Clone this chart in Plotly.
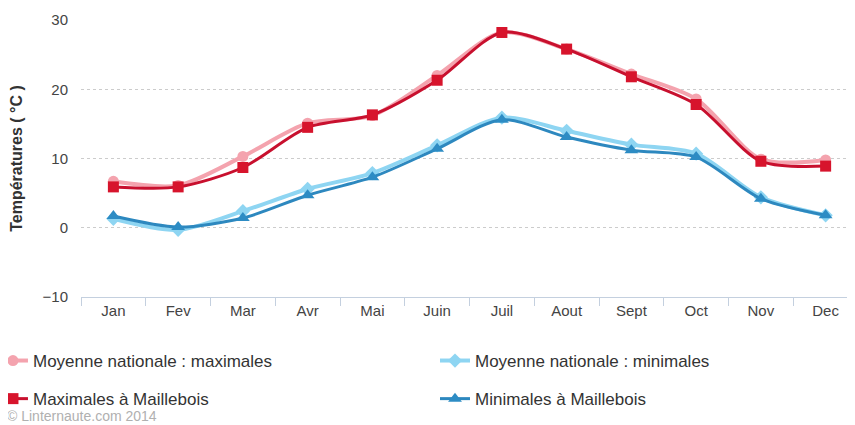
import plotly.graph_objects as go

months = ["Jan", "Fev", "Mar", "Avr", "Mai", "Juin", "Juil", "Aout", "Sept", "Oct", "Nov", "Dec"]

nat_max = [6.7, 6.1, 10.3, 15.1, 16.2, 22.0, 28.2, 25.8, 22.2, 18.6, 9.9, 9.8]
nat_min = [1.3, -0.3, 2.4, 5.6, 7.9, 11.9, 15.9, 14.0, 12.0, 10.7, 4.4, 1.8]
mail_max = [5.9, 5.9, 8.7, 14.5, 16.3, 21.3, 28.2, 25.8, 21.8, 17.8, 9.6, 8.9]
mail_min = [1.7, 0.1, 1.4, 4.7, 7.3, 11.4, 15.6, 13.1, 11.2, 10.2, 4.2, 1.8]

FONT = "Liberation Sans, Arial, sans-serif"

fig = go.Figure()

# national averages drawn first, lighter and a bit wider
fig.add_trace(go.Scatter(
    x=months, y=nat_max, name="Moyenne nationale : maximales",
    mode="lines+markers", line=dict(color="#f4a3ae", width=4, shape="spline", smoothing=0.8),
    marker=dict(symbol="circle", size=11, color="#f4a3ae"),
    legend="legend", legendgroup="a",
))
fig.add_trace(go.Scatter(
    x=months, y=nat_min, name="Moyenne nationale : minimales",
    mode="lines+markers", line=dict(color="#8ed5f2", width=4, shape="spline", smoothing=0.8),
    marker=dict(symbol="diamond", size=11, color="#8ed5f2"),
    legend="legend2", legendgroup="c",
))
fig.add_trace(go.Scatter(
    x=months, y=mail_max, name="Maximales à Maillebois",
    mode="lines+markers", line=dict(color="#c8102e", width=3, shape="spline", smoothing=0.8),
    marker=dict(symbol="square", size=11, color="#d7142c"),
    legend="legend", legendgroup="b",
))
fig.add_trace(go.Scatter(
    x=months, y=mail_min, name="Minimales à Maillebois",
    mode="lines+markers", line=dict(color="#2d88bf", width=3, shape="spline", smoothing=0.8),
    marker=dict(symbol="triangle-up", size=12, color="#2d8cc4"),
    legend="legend2", legendgroup="d",
))

legend_style = dict(
    orientation="v", yanchor="top", xanchor="left",
    font=dict(family=FONT, size=17, color="#333333"),
    tracegroupgap=13, itemwidth=30, bgcolor="rgba(0,0,0,0)",
)

# the page body adds an 8px offset, so everything is placed 8px up/left
fig.update_layout(
    width=855, height=425,
    margin=dict(l=73, r=5, t=12, b=136, autoexpand=False),
    paper_bgcolor="white", plot_bgcolor="white",
    font=dict(family=FONT, color="#333333"),
    legend=dict(x=-0.1133, y=-0.166, **legend_style),
    legend2=dict(x=0.4556, y=-0.166, **legend_style),
    annotations=[dict(
        text="© Linternaute.com 2014", xref="paper", yref="paper",
        x=-0.098, y=-0.4296, xanchor="left", yanchor="middle", showarrow=False,
        font=dict(family=FONT, size=14, color="#b0b0b0"),
    )],
)

fig.update_xaxes(
    range=[-0.5, 11.5],
    showgrid=False, showline=True, linecolor="#c4d0df", linewidth=1,
    ticks="outside", tickson="boundaries", ticklen=8, tickcolor="#c4d0df",
    tickfont=dict(size=15, color="#444444"), zeroline=False,
)
fig.update_yaxes(
    range=[-10, 30], tickvals=[-10, 0, 10, 20, 30],
    showgrid=True, gridcolor="#cccccc", griddash="dot", gridwidth=1,
    zeroline=False, showline=False, ticklabelstandoff=12,
    tickfont=dict(size=15, color="#444444"),
    title=dict(text="<b>Températures ( °C )</b>", font=dict(size=16, color="#333333"), standoff=18),
)

fig.write_html("out.html")
